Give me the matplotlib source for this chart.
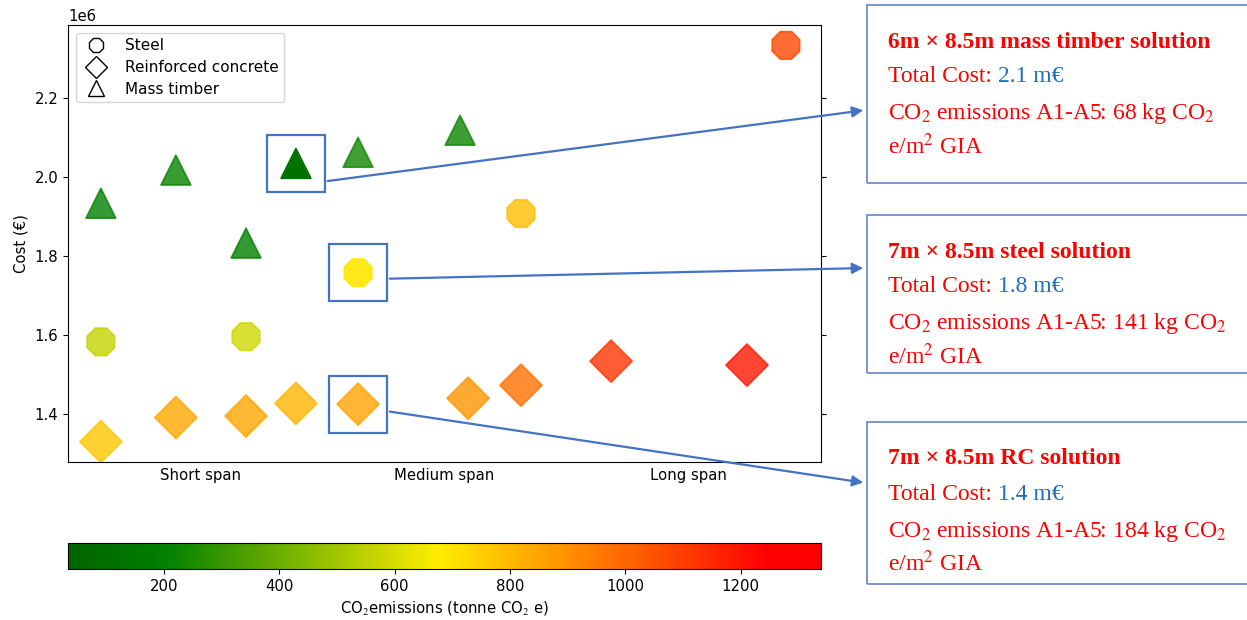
import numpy as np
import matplotlib
matplotlib.use("Agg")
import matplotlib.pyplot as plt
from matplotlib.colors import LinearSegmentedColormap, Normalize
from matplotlib.lines import Line2D
from matplotlib.patches import Rectangle, FancyArrowPatch

# ---------------------------------------------------------------- data
span_ticks = [1.0, 2.0, 3.0]
span_labels = ["Short span", "Medium span", "Long span"]

steel_x = [0.589, 1.185, 1.645, 2.314, 3.402]
steel_cost = [1.583e6, 1.596e6, 1.758e6, 1.908e6, 2.334e6]
steel_co2 = [560, 580, 690, 790, 1070]

rc_x = [0.589, 0.897, 1.185, 1.390, 1.645, 2.097, 2.314, 2.684, 3.242]
rc_cost = [1.330e6, 1.391e6, 1.395e6, 1.427e6, 1.425e6, 1.440e6, 1.473e6, 1.534e6, 1.524e6]
rc_co2 = [770, 840, 845, 809, 852, 886, 972, 1116, 1190]

timber_x = [0.589, 0.897, 1.390, 1.645, 2.064, 1.185]
timber_cost = [1.934e6, 2.018e6, 2.035e6, 2.063e6, 2.119e6, 1.833e6]
timber_co2 = [205, 215, 120, 230, 225, 200]

co2_min, co2_max = 34, 1339

# highlighted solutions (index in each series) and their notes
hl_timber, hl_steel, hl_rc = 2, 2, 4
notes = [
    ("6m \u00d7 8.5m mass timber solution", "2.1 m\u20ac", "68"),
    ("7m \u00d7 8.5m steel solution", "1.8 m\u20ac", "141"),
    ("7m \u00d7 8.5m RC solution", "1.4 m\u20ac", "184"),
]

# ---------------------------------------------------------------- figure
plt.rcParams["font.size"] = 10.7
plt.rcParams["mathtext.fontset"] = "stix"

W, H = 1247, 620
fig = plt.figure(figsize=(W / 100, H / 100), dpi=100)
ax = fig.add_axes([68 / W, 1 - 462 / H, 753 / W, 437 / H])
cax = fig.add_axes([68 / W, 1 - 569 / H, 753 / W, 26 / H])

cmap = LinearSegmentedColormap.from_list(
    "co2", [(0.0, "#006400"), (0.127, "#008000"), (0.49, "#ffee00"),
            (0.93, "#ff0000"), (1.0, "#ff0000")])
norm = Normalize(vmin=co2_min, vmax=co2_max)

def alphas(n, hl, a_hl):
    a = np.full(n, 0.8)
    a[hl] = a_hl
    return a

ax.scatter(steel_x, steel_cost, c=steel_co2, cmap=cmap, norm=norm, marker="8", s=460,
           alpha=alphas(len(steel_x), hl_steel, 0.9), linewidths=1.2, zorder=3)
ax.scatter(rc_x, rc_cost, c=rc_co2, cmap=cmap, norm=norm, marker="D", s=460,
           alpha=alphas(len(rc_x), hl_rc, 0.8), linewidths=1.2, zorder=3)
ax.scatter(timber_x, timber_cost, c=timber_co2, cmap=cmap, norm=norm, marker="^", s=460,
           alpha=alphas(len(timber_x), hl_timber, 1.0), linewidths=1.2, zorder=3)

ax.set_xlim(0.454, 3.546)
ax.set_ylim(1.2785e6, 2.3856e6)
ax.set_xticks(span_ticks)
ax.set_xticklabels(span_labels)
ax.tick_params(axis="x", length=0, pad=4)
ax.tick_params(axis="y", right=True)
ax.set_ylabel("Cost (\u20ac)")

handles = [
    Line2D([], [], ls="", marker="8", ms=11, mfc="white", mec="black", label="Steel"),
    Line2D([], [], ls="", marker="D", ms=11, mfc="white", mec="black", label="Reinforced concrete"),
    Line2D([], [], ls="", marker="^", ms=11, mfc="white", mec="black", label="Mass timber"),
]
ax.legend(handles=handles, loc="upper left", handletextpad=0.9, borderpad=0.35,
          labelspacing=0.45, fontsize=11)

sm = plt.cm.ScalarMappable(norm=norm, cmap=cmap)
cb = fig.colorbar(sm, cax=cax, orientation="horizontal")
cb.set_ticks([200, 400, 600, 800, 1000, 1200])
cb.set_label("CO$_2$emissions (tonne CO$_2$ e)")

# ---------------------------------------------------------------- callouts
blue = "#4472c4"
serif = "Liberation Serif"
red = "#ff0000"
fs = 17

hl_points = [(timber_x[hl_timber], timber_cost[hl_timber]),
             (steel_x[hl_steel], steel_cost[hl_steel]),
             (rc_x[hl_rc], rc_cost[hl_rc])]
arrow_dy = [18, 6, 7]            # start of arrow below box centre (px)
box_top = [5, 215, 422]           # callout boxes (px from top)
box_bottom = [183, 373, 584]
arrow_end = [110, 268, 483]

fig.canvas.draw()
for i, (px, py) in enumerate(hl_points):
    x0, y0 = ax.transData.transform((px, py))
    fig.add_artist(Rectangle(((x0 - 29) / W, (y0 - 28.5) / H), 58 / W, 57 / H,
                             transform=fig.transFigure, fill=False, ec=blue, lw=1.6, zorder=5))
    start = ((x0 + 29) / W, (y0 - arrow_dy[i]) / H)
    end = (866 / W, 1 - arrow_end[i] / H)
    fig.add_artist(FancyArrowPatch(start, end, transform=fig.transFigure, arrowstyle="-|>",
                                   mutation_scale=16, color=blue, lw=1.6, zorder=5))

    top, bot = box_top[i], box_bottom[i]
    fig.add_artist(Rectangle((867 / W, 1 - bot / H), 400 / W, (bot - top) / H,
                             transform=fig.transFigure, fill=False, ec="#6f8fd0", lw=1.3))
    title, cost, kg = notes[i]
    yt = top + 37
    fig.text(888 / W, 1 - yt / H, title, family=serif, weight="bold", color=red,
             fontsize=fs, va="center")
    t1 = fig.text(888 / W, 1 - (yt + 35) / H, "Total Cost: ", family=serif, color=red,
                  fontsize=fs, va="center")
    ax.annotate(cost, xy=(1, 0), xycoords=t1, va="bottom", ha="left",
                family=serif, color="#1f6fbf", fontsize=fs, annotation_clip=False)
    fig.text(888 / W, 1 - (yt + 72) / H,
             "CO$_2$ emissions A1-A5: " + kg + " kg CO$_2$",
             family=serif, color=red, fontsize=fs, va="center")
    fig.text(888 / W, 1 - (yt + 104) / H, "e/m$^2$ GIA", family=serif, color=red,
             fontsize=fs, va="center")

fig.savefig("out.png", dpi=100)
